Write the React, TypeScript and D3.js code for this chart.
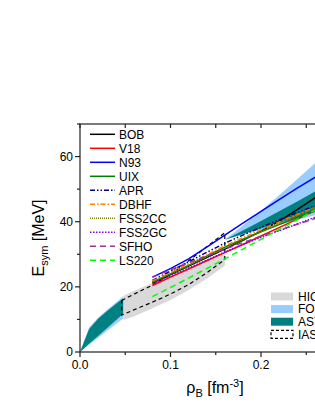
import React, { useEffect, useRef } from 'react';
import * as d3 from 'd3';

// densities (fm^-3) at which the EOS curves are read
const rho = [0.08, 0.1, 0.12, 0.14, 0.16, 0.18, 0.2, 0.22, 0.24, 0.26, 0.28, 0.3];

const bob = [21.2, 23.8, 26.4, 29.0, 31.6, 34.3, 37.1, 40.2, 43.7, 47.4, 51.2, 55.0];
const v18 = [20.4, 23.0, 25.5, 28.0, 30.5, 33.0, 35.6, 38.2, 40.8, 43.4, 46.1, 48.8];
const n93 = [23.0, 25.6, 28.6, 32.2, 35.9, 39.6, 43.2, 46.8, 50.3, 53.7, 57.2, 60.6];
const uix = [21.5, 24.0, 26.6, 29.4, 32.2, 34.6, 36.9, 39.1, 41.3, 43.5, 45.7, 47.9];
const apr = [22.0, 24.8, 27.7, 30.6, 33.4, 35.9, 38.3, 40.6, 42.8, 44.9, 47.0, 49.0];
const dbhf = [21.8, 24.4, 27.1, 29.8, 32.6, 35.1, 37.5, 39.9, 42.2, 44.5, 46.8, 49.1];
const fss2cc = [21.5, 24.0, 26.6, 29.2, 31.8, 34.4, 36.9, 39.4, 41.9, 44.3, 46.7, 49.1];
const fss2gc = [21.0, 23.4, 25.8, 28.2, 30.7, 33.0, 35.2, 37.2, 39.3, 41.4, 43.4, 45.4];
const sfho = [23.0, 25.2, 27.4, 29.5, 31.6, 33.6, 35.5, 37.4, 39.2, 41.0, 42.7, 44.4];
const ls220 = [17.0, 19.8, 22.7, 25.6, 28.6, 31.6, 34.6, 37.6, 40.6, 43.6, 46.6, 49.6];

// constraint bands
const rhoLow = [0, 0.01, 0.02, 0.03, 0.04, 0.048];
const fopiLowUpper = [0, 7.5, 10.5, 13.0, 15.3, 17.2];
const fopiLowLower = [0, 2.2, 4.3, 6.5, 8.7, 10.4];
const asyLowUpper = [0, 7.0, 10.2, 12.6, 14.8, 16.5];
const asyLowLower = [0, 2.5, 4.9, 7.4, 9.8, 11.8];

const rhoHigh = [0.16, 0.18, 0.2, 0.22, 0.24, 0.26, 0.28, 0.3];
const fopiHighUpper = [34.5, 38.8, 43.4, 48.1, 53.0, 58.0, 63.2, 68.5];
const fopiHighLower = [34.5, 36.0, 37.5, 39.0, 40.5, 42.0, 43.5, 45.0];
const asyHighUpper = [34.5, 37.3, 40.2, 43.2, 46.2, 49.3, 52.4, 55.6];
const asyHighLower = [34.5, 36.2, 37.9, 39.6, 41.3, 43.0, 44.7, 46.4];

const rhoHic = [0.048, 0.06, 0.08, 0.1, 0.12, 0.14, 0.16];
const hicUpper = [17.3, 18.8, 21.2, 23.5, 25.8, 28.0, 30.2];
const hicLower = [9.8, 11.0, 13.4, 16.0, 19.0, 22.5, 26.5];

const rhoIas = [0.046, 0.06, 0.08, 0.1, 0.12, 0.14, 0.16];
const iasUpper = [15.8, 17.8, 20.5, 23.8, 28.0, 32.3, 36.6];
const iasLower = [11.3, 13.0, 15.3, 17.8, 20.7, 24.3, 28.4];

const xTicks = [0, 0.1, 0.2, 0.3];
const xMinor = [0.05, 0.15, 0.25];
const yTicks = [0, 20, 40, 60];
const yMinor = [10, 30, 50, 70];

const models = [
  { name: 'BOB', values: bob, color: '#000000', dash: null },
  { name: 'V18', values: v18, color: '#ff0000', dash: null },
  { name: 'N93', values: n93, color: '#0000ff', dash: null },
  { name: 'UIX', values: uix, color: '#008000', dash: null },
  { name: 'APR', values: apr, color: '#000080', dash: '5,2,1.5,2,1.5,2' },
  { name: 'DBHF', values: dbhf, color: '#ff8000', dash: '5,2,1.5,2' },
  { name: 'FSS2CC', values: fss2cc, color: '#808000', dash: '1,1' },
  { name: 'FSS2GC', values: fss2gc, color: '#8000ff', dash: '1.5,1.5' },
  { name: 'SFHO', values: sfho, color: '#993399', dash: '6,4' },
  { name: 'LS220', values: ls220, color: '#00ff00', dash: '6,4' },
];

const bands = [
  { name: 'HIC (Sn+Sn)', color: '#d9d9d9' },
  { name: 'FOPI-LAND', color: '#99ccff' },
  { name: 'ASY-EOS', color: '#008080' },
  { name: 'IAS', color: 'none' },
];

const font = "Arial, 'Liberation Sans', sans-serif";

const App = () => {
  const svgRef = useRef(null);

  useEffect(() => {
    const svg = d3.select(svgRef.current);
    svg.selectAll('*').remove();

    const x = d3.scaleLinear().domain([0, 0.3]).range([80, 351.5]);
    const y = d3.scaleLinear().domain([0, 70]).range([352, 124]);
    const [x0, x1] = x.range();
    const [y0, y1] = y.range();

    svg.append('clipPath').attr('id', 'plot')
      .append('rect')
      .attr('x', x0).attr('y', y1)
      .attr('width', x1 - x0).attr('height', y0 - y1);

    const plot = svg.append('g').attr('clip-path', 'url(#plot)');

    const area = (xs, lo, hi) => d3.area()
      .x((d, i) => x(xs[i]))
      .y0((d, i) => y(lo[i]))
      .y1((d, i) => y(hi[i]))(xs);

    plot.append('path').attr('d', area(rhoLow, fopiLowLower, fopiLowUpper)).attr('fill', bands[1].color);
    plot.append('path').attr('d', area(rhoLow, asyLowLower, asyLowUpper)).attr('fill', bands[2].color);
    plot.append('path').attr('d', area(rhoHigh, fopiHighLower, fopiHighUpper)).attr('fill', bands[1].color);
    plot.append('path').attr('d', area(rhoHigh, asyHighLower, asyHighUpper)).attr('fill', bands[2].color);
    plot.append('path').attr('d', area(rhoHic, hicLower, hicUpper)).attr('fill', bands[0].color);

    // IAS dashed outline
    const iasPts = rhoIas.map((r, i) => [x(r), y(iasUpper[i])])
      .concat(rhoIas.slice().reverse().map((r, i) => [x(r), y(iasLower[rhoIas.length - 1 - i])]));
    plot.append('path')
      .attr('d', d3.line().curve(d3.curveLinearClosed)(iasPts))
      .attr('fill', 'none')
      .attr('stroke', '#000')
      .attr('stroke-width', 1.2)
      .attr('stroke-dasharray', '4,3');

    const line = d3.line()
      .x((d, i) => x(rho[i]))
      .y(d => y(d));

    models.forEach(m => {
      plot.append('path')
        .attr('d', line(m.values))
        .attr('fill', 'none')
        .attr('stroke', m.color)
        .attr('stroke-width', 1.5)
        .attr('stroke-dasharray', m.dash);
    });

    // frame
    svg.append('rect')
      .attr('x', x0).attr('y', y1)
      .attr('width', x1 - x0).attr('height', y0 - y1)
      .attr('fill', 'none').attr('stroke', '#222').attr('stroke-width', 1.2);

    const ticks = svg.append('g').attr('stroke', '#222').attr('stroke-width', 1.2);
    xTicks.forEach(t => {
      ticks.append('line').attr('x1', x(t)).attr('x2', x(t)).attr('y1', y0).attr('y2', y0 + 5);
      ticks.append('line').attr('x1', x(t)).attr('x2', x(t)).attr('y1', y1).attr('y2', y1 + 4);
    });
    xMinor.forEach(t => {
      ticks.append('line').attr('x1', x(t)).attr('x2', x(t)).attr('y1', y0).attr('y2', y0 + 3);
      ticks.append('line').attr('x1', x(t)).attr('x2', x(t)).attr('y1', y1).attr('y2', y1 + 4);
    });
    yTicks.forEach(t => {
      ticks.append('line').attr('x1', x0 - 5).attr('x2', x0).attr('y1', y(t)).attr('y2', y(t));
    });
    yMinor.forEach(t => {
      ticks.append('line').attr('x1', x0 - 3).attr('x2', x0).attr('y1', y(t)).attr('y2', y(t));
    });

    const labels = svg.append('g').style('font-family', font).style('font-size', '12px').attr('fill', '#000');
    xTicks.forEach(t => {
      labels.append('text').attr('x', x(t)).attr('y', 368.5)
        .attr('text-anchor', 'middle').text(d3.format('.1f')(t));
    });
    yTicks.forEach(t => {
      labels.append('text').attr('x', x0 - 7).attr('y', y(t)).attr('dy', '0.35em')
        .attr('text-anchor', 'end').text(t);
    });

    // axis titles
    const xt = svg.append('text').attr('x', 215).attr('y', 393)
      .attr('text-anchor', 'middle').style('font-family', font).style('font-size', '16px');
    xt.append('tspan').text('ρ');
    xt.append('tspan').attr('dy', 4).style('font-size', '11px').text('B');
    xt.append('tspan').attr('dy', -4).text(' [fm');
    xt.append('tspan').attr('dy', -6).style('font-size', '11px').text('-3');
    xt.append('tspan').attr('dy', 6).text(']');

    const yt = svg.append('text').attr('transform', 'translate(43.5,238) rotate(-90)')
      .attr('text-anchor', 'middle').style('font-family', font).style('font-size', '16px');
    yt.append('tspan').text('E');
    yt.append('tspan').attr('dy', 4).style('font-size', '11px').text('sym');
    yt.append('tspan').attr('dy', -4).text(' [MeV]');

    // model legend
    const leg = svg.append('g').style('font-family', font).style('font-size', '12px');
    models.forEach((m, i) => {
      const ly = 134.3 + i * 14;
      leg.append('line').attr('x1', 90).attr('x2', 115).attr('y1', ly).attr('y2', ly)
        .attr('stroke', m.color).attr('stroke-width', 1.5).attr('stroke-dasharray', m.dash);
      leg.append('text').attr('x', 119).attr('y', ly).attr('dy', '0.35em').text(m.name);
    });

    // band legend
    const leg2 = svg.append('g').style('font-family', font).style('font-size', '12px');
    bands.forEach((b, i) => {
      const ly = 296.5 + i * 12.6;
      leg2.append('rect').attr('x', 271).attr('y', ly - 4).attr('width', 22).attr('height', 8)
        .attr('fill', b.color)
        .attr('stroke', b.color === 'none' ? '#000' : 'none')
        .attr('stroke-dasharray', b.color === 'none' ? '3,2' : null)
        .attr('stroke-width', 1.2);
      leg2.append('text').attr('x', 298).attr('y', ly).attr('dy', '0.35em').text(b.name);
    });
  }, []);

  return (
    <svg ref={svgRef} width={315} height={407}
      style={{ position: 'absolute', left: 0, top: 0, background: '#fff' }} />
  );
};

export default App;
